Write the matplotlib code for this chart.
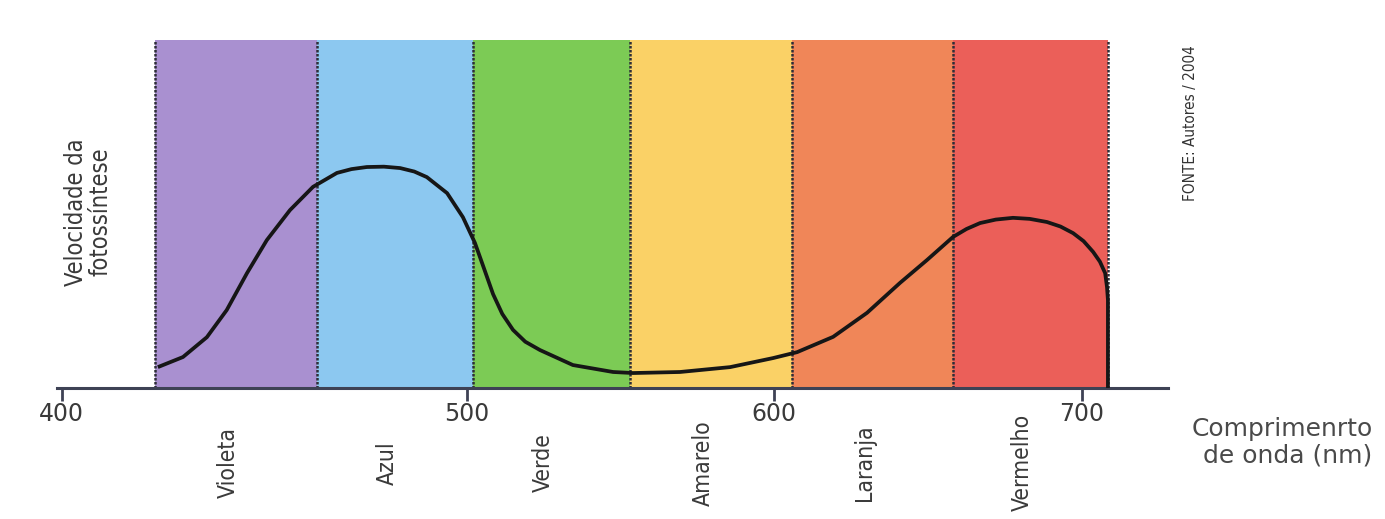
import numpy as np
import matplotlib
matplotlib.use('Agg')
import matplotlib.pyplot as plt
from matplotlib.transforms import blended_transform_factory

# ---------------- data ----------------
band_names = ['Violeta', 'Azul', 'Verde', 'Amarelo', 'Laranja', 'Vermelho']
band_edges = [423, 463, 502, 553, 606, 658, 708.4]
band_colors = ['#a990d0', '#8cc8f0', '#7ccb55', '#fad166', '#f08658', '#eb5f59']

wavelength = [423.7, 429.9, 435.8, 440.7, 445.7, 450.6, 456.3, 462.0, 467.9,
              471.5, 475.3, 479.5, 483.5, 487.0, 490.1, 495.1, 499.0, 502.6,
              505.5, 508.5, 511.5, 515.0, 519.0, 523.8, 534.5, 547.6, 554.1,
              569.4, 585.7, 599.7, 607.5, 619.2, 630.2, 640.9, 649.7, 658.1,
              662.5, 666.9, 672.0, 677.6, 683.0, 688.6, 693.0, 697.1, 700.5,
              703.6, 705.8, 707.5, 708.1, 708.4, 708.4]
rate = [6.0, 8.9, 14.6, 22.4, 33.0, 42.5, 51.1, 57.8, 61.8,
        62.9, 63.5, 63.6, 63.2, 62.2, 60.6, 56.0, 49.1, 41.7,
        34.5, 27.0, 21.3, 16.7, 13.3, 10.9, 6.6, 4.6, 4.3,
        4.6, 6.0, 8.6, 10.3, 14.7, 21.6, 30.2, 36.8, 43.4,
        45.7, 47.4, 48.4, 48.9, 48.6, 47.7, 46.4, 44.5, 42.2,
        39.1, 36.3, 33.0, 29.0, 25.3, 0.0]

xticks = [400, 500, 600, 700]

# hand-drawn (non uniform) wavelength axis of the original figure
scale_nm = [380, 400, 500, 600, 700, 760]
scale_pos = [-19.0, 62.0, 467.0, 774.0, 1082.0, 1266.8]


def fwd(x):
    return np.interp(x, scale_nm, scale_pos)


def inv(p):
    return np.interp(p, scale_pos, scale_nm)


cond = dict(family='DejaVu Sans', fontstretch='condensed')
txt_col = '#3a3a3a'
axis_col = '#3e4255'

fig = plt.figure(figsize=(13.85, 5.19), dpi=100)
fig.patch.set_facecolor('white')
ax = fig.add_axes([57 / 1385, 131 / 519, (1168 - 57) / 1385, 348 / 519])
ax.set_xscale('function', functions=(fwd, inv))
ax.set_xlim(398.8, 727.9)
ax.set_ylim(0, 100)
ax.set_facecolor('none')

for i, c in enumerate(band_colors):
    ax.axvspan(band_edges[i], band_edges[i + 1], color=c, lw=0, zorder=1)
for e in band_edges:
    ax.axvline(e, color='#2e2e38', lw=1.8, ls=(0, (1, 0.6)), zorder=2)

ax.plot(wavelength, rate, color='#161616', lw=2.7, zorder=3,
        solid_joinstyle='round', solid_capstyle='butt')

for s in ['top', 'right', 'left']:
    ax.spines[s].set_visible(False)
ax.spines['bottom'].set_color(axis_col)
ax.spines['bottom'].set_linewidth(2.2)
ax.set_yticks([])
ax.set_xticks(xticks)
ax.set_xticklabels([str(t) for t in xticks])
ax.xaxis.set_minor_locator(matplotlib.ticker.NullLocator())
ax.tick_params(axis='x', direction='out', length=9, width=2, color=axis_col,
               labelsize=17, labelcolor=txt_col, pad=1)

trans = blended_transform_factory(ax.transData, ax.transAxes)
for i, name in enumerate(band_names):
    xc = fwd(band_edges[i]) * 0.5 + fwd(band_edges[i + 1]) * 0.5
    ax.text(inv(xc - 8), -0.215, name, transform=trans, rotation=90,
            ha='center', va='center', fontsize=16.5, color=txt_col, **cond)

fig.text(88 / 1385, 1 - 212 / 519, 'Velocidade da\nfotossíntese', rotation=90,
         ha='center', va='center', multialignment='center', fontsize=17,
         color=txt_col, linespacing=1.0, **cond)
fig.text(1191 / 1385, 1 - 123 / 519, 'FONTE: Autores / 2004', rotation=90,
         ha='center', va='center', fontsize=11, color='#333333', **cond)
fig.text(1282 / 1385, 1 - 442 / 519, 'Comprimenrto\nde onda (nm)', ha='center',
         va='center', multialignment='right', fontsize=18, color='#4a4a4a',
         linespacing=1.15)

fig.savefig('out.png', dpi=100, facecolor='white')
